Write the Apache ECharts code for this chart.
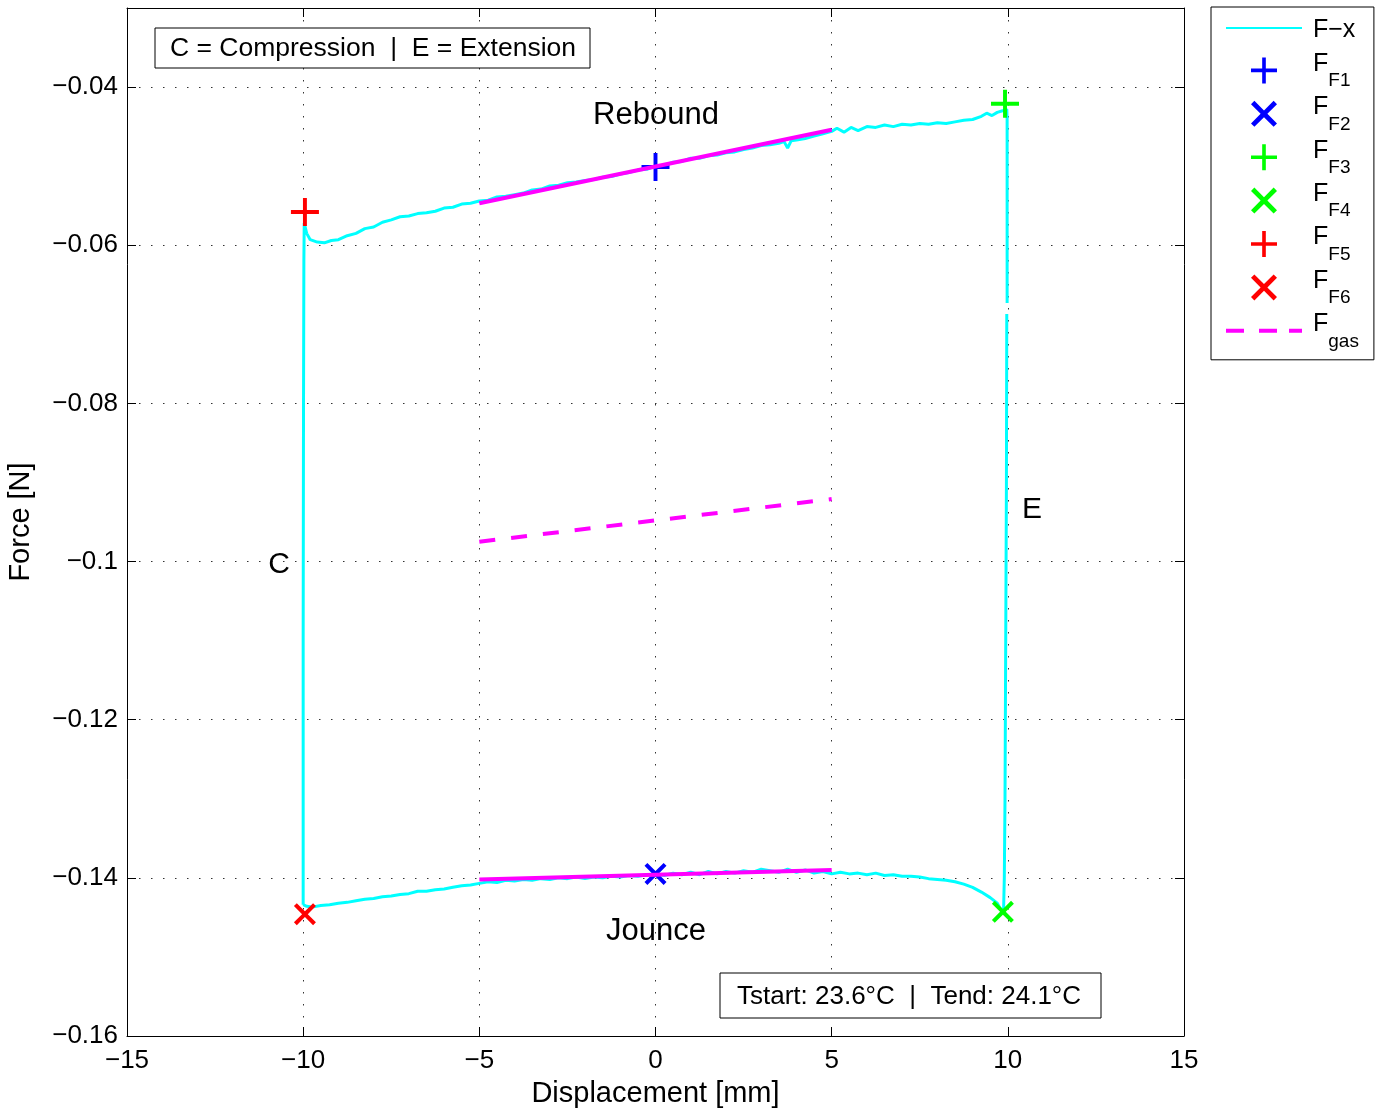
<!DOCTYPE html>
<html>
<head>
<meta charset="utf-8">
<script src="https://cdn.jsdelivr.net/npm/echarts@6/dist/echarts.min.js"></script>
<style>
  html, body { margin: 0; padding: 0; background: #fff; }
  #chart { width: 1379px; height: 1110px; }
</style>
</head>
<body>
<div id="chart"></div>
<script>
// Force–displacement loop of the damper test, with fitted friction/gas lines
const FONT = 'Liberation Sans, Arial, Helvetica, sans-serif';

// Compression stroke (left vertical edge)
const compressionX = [-10.0, -10.0, -9.99, -9.98, -9.97];
const compressionF = [-0.1434, -0.1100, -0.0800, -0.0620, -0.0572];

// Rebound branch (upper edge)
const reboundX = [-9.9, -9.8, -9.6, -9.4, -9.2, -9.0, -8.75, -8.5, -8.25, -8.0, -7.75, -7.5, -7.25, -7.0, -6.75, -6.5, -6.25, -6.0, -5.75, -5.5, -5.25, -5.0, -4.75, -4.5, -4.25, -4.0, -3.75, -3.5, -3.25, -3.0, -2.75, -2.5, -2.25, -2.0, -1.75, -1.5, -1.25, -1.0, -0.75, -0.5, -0.25, 0, 0.25, 0.5, 0.75, 1.0, 1.25, 1.5, 1.75, 2.0, 2.25, 2.5, 2.75, 3.0, 3.25, 3.5, 3.65, 3.75, 3.85, 4.0, 4.25, 4.5, 4.75, 5.0, 5.15, 5.35, 5.55, 5.75, 6.0, 6.25, 6.5, 6.75, 7.0, 7.25, 7.5, 7.75, 8.0, 8.25, 8.5, 8.75, 9.0, 9.25, 9.4, 9.55, 9.7, 9.85, 9.97];
const reboundF = [-0.0585, -0.0593, -0.0596, -0.0597, -0.0594, -0.0593, -0.0588, -0.0585, -0.0579, -0.0577, -0.0571, -0.0568, -0.0564, -0.0563, -0.0560, -0.0559, -0.0557, -0.0553, -0.0552, -0.0548, -0.0547, -0.0544, -0.0543, -0.0539, -0.0538, -0.0536, -0.0534, -0.0530, -0.0529, -0.0525, -0.0524, -0.0521, -0.0520, -0.0518, -0.0517, -0.0514, -0.0513, -0.0510, -0.0508, -0.0505, -0.0504, -0.0500, -0.0499, -0.0495, -0.0494, -0.0490, -0.0490, -0.0487, -0.0486, -0.0483, -0.0482, -0.0479, -0.0477, -0.0474, -0.0473, -0.0471, -0.0469, -0.0477, -0.0468, -0.0467, -0.0465, -0.0462, -0.0459, -0.0456, -0.0452, -0.0457, -0.0451, -0.0455, -0.0450, -0.0451, -0.0448, -0.0450, -0.0447, -0.0448, -0.0446, -0.0447, -0.0445, -0.0446, -0.0444, -0.0442, -0.0441, -0.0437, -0.0433, -0.0436, -0.0432, -0.0430, -0.0428];

// Extension stroke (right vertical edge); null marks a dropout in the record
const extensionX = [9.98, 9.98, 9.98, 9.98, 9.97, 9.96, 9.94, 9.92, 9.90, 9.88];
const extensionF = [-0.0440, -0.0560, -0.0673, null, -0.0687, -0.0900, -0.1100, -0.1300, -0.1400, -0.1440];

// Jounce branch (lower edge), travelling back to -10 mm
const jounceX = [9.8, 9.7, 9.5, 9.25, 9.0, 8.75, 8.5, 8.25, 8.0, 7.75, 7.5, 7.25, 7.0, 6.75, 6.5, 6.25, 6.0, 5.75, 5.5, 5.25, 5.0, 4.75, 4.5, 4.25, 4.0, 3.75, 3.5, 3.25, 3.0, 2.75, 2.5, 2.25, 2.0, 1.75, 1.5, 1.25, 1.0, 0.75, 0.5, 0.25, 0.0, -0.25, -0.5, -0.75, -1.0, -1.25, -1.5, -1.75, -2.0, -2.25, -2.5, -2.75, -3.0, -3.25, -3.5, -3.75, -4.0, -4.25, -4.5, -4.75, -5.0, -5.25, -5.5, -5.75, -6.0, -6.25, -6.5, -6.75, -7.0, -7.25, -7.5, -7.75, -8.0, -8.25, -8.5, -8.75, -9.0, -9.25, -9.5, -9.75, -9.9, -10.0];
const jounceF = [-0.1440, -0.1432, -0.1425, -0.1418, -0.1412, -0.1408, -0.1405, -0.1403, -0.1402, -0.1401, -0.1399, -0.1398, -0.1398, -0.1396, -0.1397, -0.1394, -0.1396, -0.1394, -0.1395, -0.1393, -0.1395, -0.1392, -0.1394, -0.1390, -0.1393, -0.1389, -0.1393, -0.1391, -0.1389, -0.1393, -0.1391, -0.1394, -0.1392, -0.1395, -0.1392, -0.1396, -0.1393, -0.1396, -0.1394, -0.1397, -0.1395, -0.1396, -0.1398, -0.1397, -0.1399, -0.1398, -0.1400, -0.1399, -0.1401, -0.1399, -0.1401, -0.1400, -0.1402, -0.1401, -0.1403, -0.1402, -0.1404, -0.1403, -0.1406, -0.1405, -0.1407, -0.1409, -0.1410, -0.1412, -0.1414, -0.1415, -0.1417, -0.1417, -0.1420, -0.1421, -0.1423, -0.1424, -0.1426, -0.1427, -0.1429, -0.1431, -0.1432, -0.1434, -0.1435, -0.1437, -0.1436, -0.1434];

// Characteristic friction points F1..F6 [displacement mm, force N]
const pointF1 = [0.0, -0.0501];
const pointF2 = [0.0, -0.1395];
const pointF3 = [9.92, -0.0421];
const pointF4 = [9.86, -0.1443];
const pointF5 = [-9.95, -0.0558];
const pointF6 = [-9.95, -0.1446];

// Linear fits over -5..5 mm
const fitX = [-5, 5];
const reboundFitF = [-0.0547, -0.0454];
const jounceFitF = [-0.1402, -0.1390];
const gasF = [-0.0975, -0.0921];

// Axis ticks
const xTicks = { min: -15, max: 15, step: 5 };
const yTicks = { min: -0.16, max: -0.03, step: 0.02 };

const zip = (xs, ys) => xs.map((x, i) => [x, ys[i]]);
const loopData = [].concat(
  zip(compressionX, compressionF),
  zip(reboundX, reboundF),
  zip(extensionX, extensionF),
  zip(jounceX, jounceF)
);

const PLUS = 'path://M43,0H57V43H100V57H57V100H43V57H0V43H43Z';
const CROSS = 'path://M0,13L13,0L50,37L87,0L100,13L63,50L100,87L87,100L50,63L13,100L0,87L37,50Z';
const SOLID_KEY = 'path://M0,0H76V2H0Z';
const DASH_KEY = 'path://M0,0H18V4H0ZM33,0H51V4H33ZM63,0H76V4H63Z';

const minus = v => (v < 0 ? '\u2212' : '') + String(+Math.abs(v).toFixed(2));

const chart = echarts.init(document.getElementById('chart'), null, { renderer: 'canvas' });

const markerSeries = (name, pt, symbol, color) => ({
  name: name,
  type: 'scatter',
  data: [pt],
  symbol: symbol,
  symbolSize: symbol === PLUS ? 28 : 22,
  itemStyle: { color: color, opacity: 1 },
  z: 3
});

const labelFor = {
  'F\u2212x': '{c|F\u2212x}',
  'FF1': '{m|F}{s|F1}', 'FF2': '{m|F}{s|F2}', 'FF3': '{m|F}{s|F3}',
  'FF4': '{m|F}{s|F4}', 'FF5': '{m|F}{s|F5}', 'FF6': '{m|F}{s|F6}',
  'Fgas': '{m|F}{s|gas}'
};

const option = {
  animation: false,
  backgroundColor: '#ffffff',
  textStyle: { fontFamily: FONT },
  grid: { left: 127, right: 195, top: 8, bottom: 74, containLabel: false, outerBoundsMode: 'none' },
  xAxis: [{
    type: 'value', min: xTicks.min, max: xTicks.max, interval: xTicks.step,
    name: 'Displacement [mm]', nameLocation: 'middle', nameGap: 43,
    nameTextStyle: { fontSize: 29, color: '#000', fontFamily: FONT },
    axisLine: { show: true, onZero: false, lineStyle: { color: '#000', width: 1 } },
    axisTick: { show: true, inside: true, length: 9, lineStyle: { color: '#000' } },
    axisLabel: { fontSize: 26, color: '#000', margin: 12, fontFamily: FONT, formatter: minus },
    splitLine: { show: true, lineStyle: { color: '#333', width: 1, type: [1.5, 10.5] } }
  }, {
    type: 'value', position: 'top', min: xTicks.min, max: xTicks.max, interval: xTicks.step,
    axisLine: { show: true, onZero: false, lineStyle: { color: '#000', width: 1 } },
    axisTick: { show: true, inside: true, length: 9, lineStyle: { color: '#000' } },
    axisLabel: { show: false }, splitLine: { show: false }
  }],
  yAxis: [{
    type: 'value', min: yTicks.min, max: yTicks.max, interval: yTicks.step,
    name: 'Force [N]', nameLocation: 'middle', nameGap: 92,
    nameTextStyle: { fontSize: 29, color: '#000', fontFamily: FONT },
    axisLine: { show: true, onZero: false, lineStyle: { color: '#000', width: 1 } },
    axisTick: { show: true, inside: true, length: 9, lineStyle: { color: '#000' } },
    axisLabel: {
      fontSize: 26, color: '#000', margin: 9, fontFamily: FONT,
      formatter: v => (v > -0.035 ? '' : minus(v))
    },
    splitLine: { show: true, lineStyle: { color: '#333', width: 1, type: [1.5, 10.5] } }
  }, {
    type: 'value', position: 'right', min: yTicks.min, max: yTicks.max, interval: yTicks.step,
    axisLine: { show: true, onZero: false, lineStyle: { color: '#000', width: 1 } },
    axisTick: { show: true, inside: true, length: 9, lineStyle: { color: '#000' } },
    axisLabel: { show: false }, splitLine: { show: false }
  }],
  legend: {
    orient: 'vertical', left: 1211, top: 7,
    padding: [2, 15, 9, 15],
    itemWidth: 76, itemHeight: 26, itemGap: 4.4,
    backgroundColor: '#fff', borderColor: '#000', borderWidth: 1, borderRadius: 0,
    selectedMode: false,
    formatter: name => labelFor[name] || name,
    textStyle: {
      color: '#000', fontFamily: FONT, padding: [0, 0, 0, 6],
      rich: {
        c: { fontSize: 25, lineHeight: 38, padding: [9, 0, 4, 0], verticalAlign: 'top', fontFamily: FONT, color: '#000' },
        m: { fontSize: 25, lineHeight: 38, verticalAlign: 'top', fontFamily: FONT, color: '#000' },
        s: { fontSize: 19, lineHeight: 38, padding: [20, 0, 0, 0], verticalAlign: 'top', fontFamily: FONT, color: '#000' }
      }
    },
    data: [
      { name: 'F\u2212x', icon: SOLID_KEY },
      { name: 'FF1', icon: PLUS }, { name: 'FF2', icon: CROSS },
      { name: 'FF3', icon: PLUS }, { name: 'FF4', icon: CROSS },
      { name: 'FF5', icon: PLUS }, { name: 'FF6', icon: CROSS },
      { name: 'Fgas', icon: DASH_KEY }
    ]
  },
  series: [
    {
      name: 'F\u2212x', type: 'line', data: loopData, symbol: 'none',
      connectNulls: false, lineStyle: { color: '#00ffff', width: 3 },
      itemStyle: { color: '#00ffff' }, z: 2
    },
    markerSeries('FF1', pointF1, PLUS, '#0000ff'),
    markerSeries('FF2', pointF2, CROSS, '#0000ff'),
    markerSeries('FF3', pointF3, PLUS, '#00ff00'),
    markerSeries('FF4', pointF4, CROSS, '#00ff00'),
    markerSeries('FF5', pointF5, PLUS, '#ff0000'),
    markerSeries('FF6', pointF6, CROSS, '#ff0000'),
    {
      name: 'Fgas', type: 'line', data: zip(fitX, gasF), symbol: 'none',
      lineStyle: { color: '#ff00ff', width: 4, type: [16, 16] },
      itemStyle: { color: '#ff00ff' }, z: 4
    },
    {
      name: 'Rebound fit', type: 'line', data: zip(fitX, reboundFitF), symbol: 'none',
      lineStyle: { color: '#ff00ff', width: 4 }, itemStyle: { color: '#ff00ff' }, z: 4
    },
    {
      name: 'Jounce fit', type: 'line', data: zip(fitX, jounceFitF), symbol: 'none',
      lineStyle: { color: '#ff00ff', width: 4 }, itemStyle: { color: '#ff00ff' }, z: 4
    }
  ],
  graphic: [
    { type: 'rect', shape: { x: 155, y: 28, width: 435, height: 40 },
      style: { fill: '#fff', stroke: '#000', lineWidth: 1 }, z: 10 },
    { type: 'text', x: 373, y: 49, z: 11,
      style: { text: 'C = Compression  |  E = Extension', fill: '#000',
        font: '26.5px ' + FONT, align: 'center', verticalAlign: 'middle' } },
    { type: 'text', x: 656, y: 115, z: 11,
      style: { text: 'Rebound', fill: '#000', font: '31px ' + FONT, align: 'center', verticalAlign: 'middle' } },
    { type: 'text', x: 656, y: 931, z: 11,
      style: { text: 'Jounce', fill: '#000', font: '31px ' + FONT, align: 'center', verticalAlign: 'middle' } },
    { type: 'text', x: 279, y: 565, z: 11,
      style: { text: 'C', fill: '#000', font: '30px ' + FONT, align: 'center', verticalAlign: 'middle' } },
    { type: 'text', x: 1032, y: 510, z: 11,
      style: { text: 'E', fill: '#000', font: '30px ' + FONT, align: 'center', verticalAlign: 'middle' } },
    { type: 'rect', shape: { x: 720, y: 973, width: 381, height: 45 },
      style: { fill: '#fff', stroke: '#000', lineWidth: 1 }, z: 10 },
    { type: 'text', x: 909, y: 997, z: 11,
      style: { text: 'Tstart: 23.6\u00b0C  |  Tend: 24.1\u00b0C', fill: '#000',
        font: '26px ' + FONT, align: 'center', verticalAlign: 'middle' } }
  ]
};

chart.setOption(option);
</script>
</body>
</html>
